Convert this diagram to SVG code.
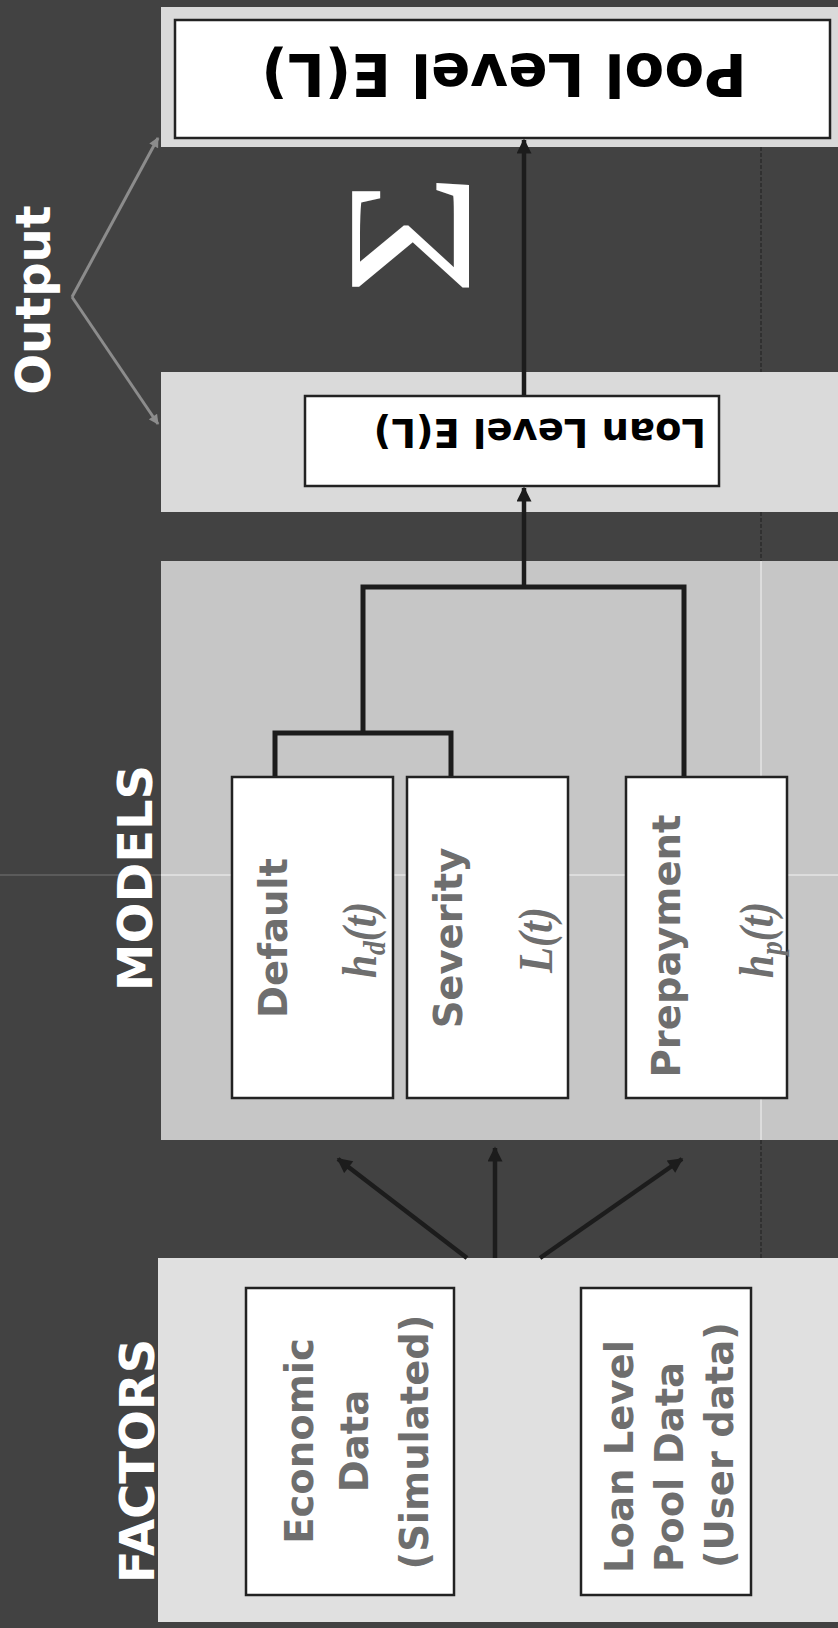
<svg xmlns="http://www.w3.org/2000/svg" width="838" height="1628" viewBox="0 0 838 1628">
<defs>
<style>
.panel-lt{fill:#dadada}
.panel-md{fill:#c6c6c6}
.panel-fc{fill:#e0e0e0}
.box{fill:#ffffff;stroke:#222222;stroke-width:2.5}
.lbl{font-family:"DejaVu Sans",Verdana,sans-serif;font-weight:bold;fill:#ffffff;font-size:48px;text-anchor:middle}
.bt{font-family:"DejaVu Sans",Verdana,sans-serif;font-weight:bold;fill:#6e6e6e;font-size:38.5px}
.blk{font-family:"DejaVu Sans",Verdana,sans-serif;font-weight:bold;fill:#000000}
.fm{font-family:"Liberation Serif","Times New Roman",serif;font-weight:bold;font-style:italic;fill:#6e6e6e;font-size:48px;text-anchor:middle}
.tree{fill:none;stroke:#1c1c1c;stroke-width:5}
.arr{fill:none;stroke:#1c1c1c;stroke-width:4.5;marker-end:url(#ah)}
.garr{fill:none;stroke:#8c8c8c;stroke-width:3;marker-end:url(#gh)}
</style>
<marker id="ah" viewBox="0 0 10 10" refX="9" refY="5" markerUnits="userSpaceOnUse" markerWidth="17" markerHeight="15" orient="auto">
<path d="M0,0 L10,5 L0,10 z" fill="#1c1c1c"/>
</marker>
<marker id="gh" viewBox="0 0 10 10" refX="9" refY="5" markerUnits="userSpaceOnUse" markerWidth="11" markerHeight="10" orient="auto">
<path d="M0,0 L10,5 L0,10 z" fill="#8c8c8c"/>
</marker>
</defs>

<rect x="0" y="0" width="838" height="1628" fill="#424242"/>

<!-- faint guide lines in dark gaps -->
<line x1="761" y1="147" x2="761" y2="372" stroke="#1e1e1e" stroke-width="1" stroke-dasharray="4 2"/>
<line x1="761" y1="512" x2="761" y2="561" stroke="#1e1e1e" stroke-width="1" stroke-dasharray="4 2"/>
<line x1="761" y1="1140" x2="761" y2="1258" stroke="#1e1e1e" stroke-width="1" stroke-dasharray="4 2"/>

<!-- panels -->
<g id="output-panel-pool"><rect class="panel-lt" x="161" y="7" width="677" height="140"/></g>
<g id="output-panel-loan"><rect class="panel-lt" x="161" y="372" width="677" height="140"/></g>
<g id="models-panel"><rect class="panel-md" x="161" y="561" width="677" height="579"/>
<line x1="761" y1="561" x2="761" y2="1140" stroke="#ffffff" stroke-width="1" opacity="0.8"/>
<line x1="161" y1="875" x2="838" y2="875" stroke="#ffffff" stroke-width="1" opacity="0.8"/>
</g>
<g id="factors-panel"><rect class="panel-fc" x="158" y="1258" width="680" height="364"/></g>
<line x1="0" y1="875" x2="161" y2="875" stroke="#8a8a8a" stroke-width="1" opacity="0.7"/>

<!-- side labels -->
<g id="label-output"><text class="lbl" transform="translate(50,300) rotate(-90)">Output</text></g>
<g id="label-models"><text class="lbl" transform="translate(152,878) rotate(-90)">MODELS</text></g>
<g id="label-factors"><text class="lbl" transform="translate(154,1461) rotate(-90)">FACTORS</text></g>

<!-- sigma -->
<g id="sigma"><text transform="translate(469,234) rotate(-90) scale(1.19,1)" font-family="'Liberation Serif','Times New Roman',serif" font-size="178" fill="#ffffff" text-anchor="middle">Σ</text></g>

<!-- connectors -->
<g id="connectors">
<path class="garr" d="M72,297 L158,138"/>
<path class="garr" d="M72,297 L158,424"/>
<path class="arr" d="M524,396 L524,140"/>
<path class="arr" d="M524,587 L524,488"/>
<path class="tree" d="M363,733 L363,587 L684,587 L684,777"/>
<path class="tree" d="M275,777 L275,733 L451,733 L451,777"/>
<path class="arr" d="M467,1258 L338,1159"/>
<path class="arr" d="M495,1258 L495,1148"/>
<path class="arr" d="M540,1258 L682,1159"/>
</g>

<!-- nodes -->
<g id="node-pool">
<rect class="box" x="175" y="20" width="655" height="118"/>
<text class="blk" font-size="58" text-anchor="middle" transform="translate(504,54) rotate(180)">Pool Level E(L)</text>
</g>
<g id="node-loan">
<rect class="box" x="305" y="396" width="414" height="90"/>
<text class="blk" font-size="38.5" text-anchor="start" transform="translate(706,419) rotate(180)">Loan Level E(L)</text>
</g>
<g id="node-default">
<rect class="box" x="232" y="777" width="161" height="321"/>
<text class="bt" text-anchor="middle" transform="translate(287,938) rotate(-90)">Default</text>
<text class="fm" textLength="76" lengthAdjust="spacingAndGlyphs" transform="translate(376,940) rotate(-90)">h<tspan font-size="32" dy="9">d</tspan><tspan dy="-9">(t)</tspan></text>
</g>
<g id="node-severity">
<rect class="box" x="407" y="777" width="161" height="321"/>
<text class="bt" text-anchor="middle" transform="translate(462,938) rotate(-90)">Severity</text>
<text class="fm" textLength="66" lengthAdjust="spacingAndGlyphs" transform="translate(552,940) rotate(-90)">L(t)</text>
</g>
<g id="node-prepayment">
<rect class="box" x="626" y="777" width="161" height="321"/>
<text class="bt" text-anchor="middle" transform="translate(680,946) rotate(-90)">Prepayment</text>
<text class="fm" textLength="76" lengthAdjust="spacingAndGlyphs" transform="translate(773,940) rotate(-90)">h<tspan font-size="32" dy="9">p</tspan><tspan dy="-9">(t)</tspan></text>
</g>
<g id="node-economic">
<rect class="box" x="246" y="1288" width="208" height="307"/>
<text class="bt" text-anchor="middle" transform="translate(313,1441) rotate(-90)">Economic</text>
<text class="bt" text-anchor="middle" transform="translate(368,1441) rotate(-90)">Data</text>
<text class="bt" text-anchor="middle" transform="translate(428,1442) rotate(-90)">(Simulated)</text>
</g>
<g id="node-loanpool">
<rect class="box" x="581" y="1288" width="170" height="307"/>
<text class="bt" text-anchor="start" transform="translate(633,1573) rotate(-90)">Loan Level</text>
<text class="bt" text-anchor="start" transform="translate(683,1572) rotate(-90)">Pool Data</text>
<text class="bt" text-anchor="start" transform="translate(733,1568) rotate(-90)">(User data)</text>
</g>
</svg>
